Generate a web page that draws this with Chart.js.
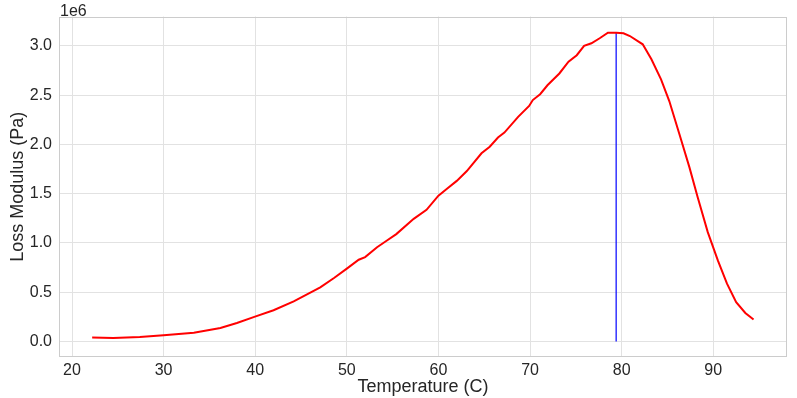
<!DOCTYPE html>
<html>
<head>
<meta charset="utf-8">
<script src="https://cdn.jsdelivr.net/npm/chart.js@4.4.1/dist/chart.umd.min.js"></script>
<style>
    html, body { margin: 0; padding: 0; background: #ffffff; }
    #wrap { width: 797px; height: 398px; position: relative; }
</style>
</head>
<body>
<div id="wrap"><canvas id="lossChart"></canvas></div>
<script>
// Naměřená data (teplota v °C, ztrátový modul v Pa)
const temperature = [22.2, 24.5, 27.4, 30.0, 33.3, 36.2, 38.0, 39.9, 42.0, 44.2,
    45.6, 47.1, 48.6, 50.0, 51.3, 52.0, 53.3, 54.3, 55.4,
    57.3, 58.7, 60.0, 61.0, 62.0, 63.1, 64.7, 65.6, 66.5, 67.2,
    68.7, 69.9, 70.3, 71.1, 71.9, 73.2, 74.2, 75.1, 75.9, 76.7,
    77.6, 78.5, 79.4, 80.2, 80.9, 82.3, 83.25, 84.3, 85.2, 86.3,
    87.4, 88.3, 89.4, 90.5, 91.5, 92.5, 93.5, 94.4];
const lossModulus = [40000, 37000, 47000, 64000, 90000, 138000, 188000, 250000, 317000, 408000,
    475000, 550000, 645000, 740000, 830000, 857000, 957000, 1020000, 1090000,
    1245000, 1336000, 1480000, 1555000, 1630000, 1730000, 1910000, 1977000, 2070000, 2120000,
    2280000, 2390000, 2450000, 2510000, 2600000, 2720000, 2840000, 2905000, 3000000, 3026000,
    3077000, 3134000, 3134000, 3127000, 3100000, 3016000, 2864000, 2660000, 2440000, 2105000,
    1767000, 1464000, 1110000, 823000, 587000, 400000, 290000, 223000];

// Svislá čára v maximu
const peakTemperature = 79.4;
const peakLine = [0, 3134000];

const xTicks = [20, 30, 40, 50, 60, 70, 80, 90];
const yTicks = [0, 500000, 1000000, 1500000, 2000000, 2500000, 3000000];

const textColor = '#262626';
const gridColor = '#e2e2e2';
const spineColor = '#cccccc';

// Rámeček kolem grafu + popisek 1e6
const framePlugin = {
    id: 'frame',
    afterDraw: (chart) => {
        const ctx = chart.ctx;
        const a = chart.chartArea;
        ctx.save();
        ctx.strokeStyle = spineColor;
        ctx.lineWidth = 1;
        ctx.strokeRect(Math.round(a.left) + 0.5, Math.round(a.top) + 0.5,
            Math.round(a.right - a.left) - 1, Math.round(a.bottom - a.top) - 1);
        ctx.font = '16px "Liberation Sans", Arial, sans-serif';
        ctx.fillStyle = textColor;
        ctx.textAlign = 'left';
        ctx.textBaseline = 'alphabetic';
        ctx.fillText('1e6', a.left + 1, a.top - 1);
        ctx.restore();
    }
};

new Chart(document.getElementById('lossChart'), {
    type: 'line',
    data: {
        datasets: [
            {
                data: temperature.map((t, i) => ({ x: t, y: lossModulus[i] })),
                borderColor: '#ff0000',
                borderWidth: 2,
                pointRadius: 0,
                tension: 0,
                order: 1
            },
            {
                data: peakLine.map(v => ({ x: peakTemperature, y: v })),
                borderColor: '#0000ff',
                borderWidth: 1.2,
                pointRadius: 0,
                order: 2
            }
        ]
    },
    options: {
        responsive: true,
        maintainAspectRatio: false,
        animation: false,
        events: [],
        layout: {
            padding: { top: 16, right: 10, left: 0, bottom: 0 }
        },
        plugins: {
            legend: { display: false },
            tooltip: { enabled: false }
        },
        scales: {
            x: {
                type: 'linear',
                min: 18.58,
                max: 98.05,
                afterBuildTicks: (scale) => { scale.ticks = xTicks.map(v => ({ value: v })); },
                afterFit: (scale) => { scale.height = 41; },
                ticks: {
                    color: textColor,
                    padding: 4,
                    maxRotation: 0,
                    font: { family: '"Liberation Sans", Arial, sans-serif', size: 16 }
                },
                grid: { color: gridColor, drawTicks: false },
                border: { display: false },
                title: {
                    display: true,
                    text: 'Temperature (C)',
                    color: textColor,
                    padding: { top: 0, bottom: 0 },
                    font: { family: '"Liberation Sans", Arial, sans-serif', size: 18 }
                }
            },
            y: {
                type: 'linear',
                min: -157000,
                max: 3297000,
                afterBuildTicks: (scale) => { scale.ticks = yTicks.map(v => ({ value: v })); },
                afterFit: (scale) => { scale.width = 59; },
                ticks: {
                    color: textColor,
                    padding: 7,
                    callback: function(value) {
                        return (value / 1e6).toFixed(1);
                    },
                    font: { family: '"Liberation Sans", Arial, sans-serif', size: 16 }
                },
                grid: { color: gridColor, drawTicks: false },
                border: { display: false },
                title: {
                    display: true,
                    text: 'Loss Modulus (Pa)',
                    color: textColor,
                    padding: { top: 7, bottom: 0 },
                    font: { family: '"Liberation Sans", Arial, sans-serif', size: 18 }
                }
            }
        }
    },
    plugins: [framePlugin]
});
</script>
</body>
</html>
